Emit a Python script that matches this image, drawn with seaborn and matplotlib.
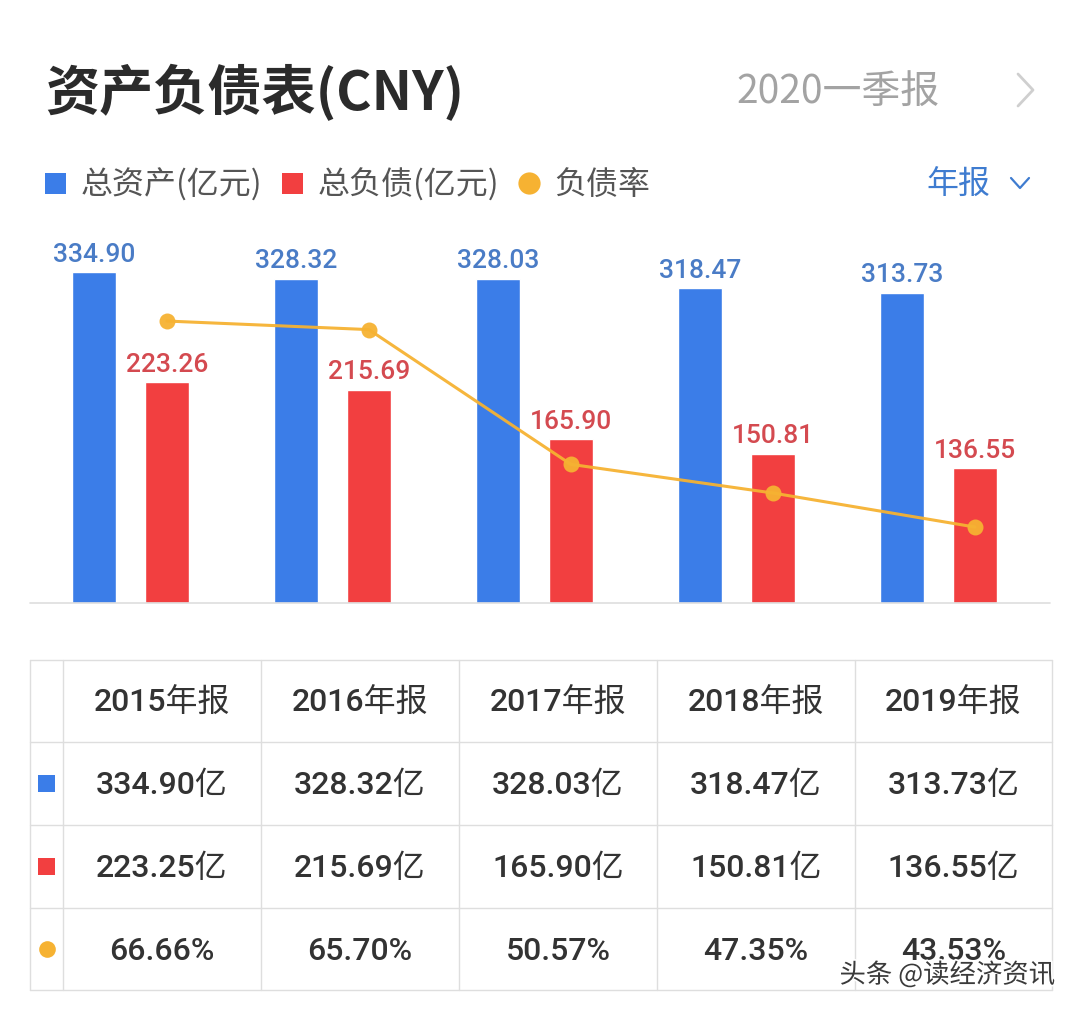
import numpy as np
import pandas as pd
import matplotlib
matplotlib.use('Agg')
import matplotlib.pyplot as plt
import matplotlib.patheffects as pe
import seaborn as sns

years = ['2015年报', '2016年报', '2017年报', '2018年报', '2019年报']
assets = [334.90, 328.32, 328.03, 318.47, 313.73]
liabs = [223.26, 215.69, 165.90, 150.81, 136.55]
liabs_table = [223.25, 215.69, 165.90, 150.81, 136.55]
ratio = [66.66, 65.70, 50.57, 47.35, 43.53]

BLUE = '#3b7de8'
RED = '#f23f40'
ORANGE = '#f6b232'
BLUE_TXT = '#4a7cc6'
RED_TXT = '#d44a50'
GRID = '#dedede'

sns.set_style('white')
plt.rcParams['font.family'] = ['Noto Sans CJK SC', 'DejaVu Sans']
NUMFONT = ['Roboto', 'Noto Sans CJK SC']

W, H = 1080, 1015
fig = plt.figure(figsize=(W / 100, H / 100), dpi=100)

df = pd.DataFrame({
    'year': years * 2,
    'series': ['总资产'] * 5 + ['总负债'] * 5,
    'value': assets + liabs,
})

# bar chart area
ax = fig.add_axes([30 / W, (H - 603) / H, 1020 / W, 363 / H])
sns.barplot(data=df, x='year', y='value', hue='series', palette=[BLUE, RED],
            width=0.72, gap=0.395, ax=ax, legend=False, saturation=1)
ax.set_xlim(-0.4975, 4.552)
ax.set_ylim(0, 367.4)
ax.axis('off')
ax.axhline(0, color=GRID, lw=1.2, clip_on=False)
for cont, col in zip(ax.containers, [BLUE_TXT, RED_TXT]):
    ax.bar_label(cont, fmt='%.2f', padding=4, color=col, fontsize=19,
                 family='Roboto', fontweight='medium')

ax2 = ax.twinx()
sns.lineplot(x=np.arange(len(ratio)) + 0.18, y=ratio, ax=ax2, color=ORANGE,
             lw=2.2, marker='o', markersize=11.5, markeredgewidth=0, alpha=0.95)
ax2.set_xlim(-0.4975, 4.552)
ax2.set_ylim(35, 75.76)
ax2.axis('off')

# overlay in pixel coordinates for header, legend and table
ov = fig.add_axes([0, 0, 1, 1])
ov.set_xlim(0, W)
ov.set_ylim(H, 0)
ov.axis('off')

ov.text(45, 94, '资产负债表(CNY)', fontsize=39, fontweight='bold', color='#2b2b2b',
        va='center', ha='left')
ov.text(940, 93, '2020一季报', fontsize=28, color='#a3a3a3', va='center', ha='right')
ov.plot([1018, 1033, 1018], [74, 90, 106], color='#cfcfcf', lw=2)

ov.add_patch(plt.Rectangle((45, 173), 21, 21, color=BLUE, lw=0))
ov.text(81, 185, '总资产(亿元)', fontsize=23, color='#555555', va='center')
ov.add_patch(plt.Rectangle((282, 173), 21, 21, color=RED, lw=0))
ov.text(318, 185, '总负债(亿元)', fontsize=23, color='#555555', va='center')
ov.plot([529], [183], 'o', color=ORANGE, markersize=16, markeredgewidth=0)
ov.text(554, 185, '负债率', fontsize=23, color='#555555', va='center')
ov.text(990, 185, '年报', fontsize=23, color='#3f7cd0', va='center', ha='right')
ov.plot([1011, 1020, 1029], [178, 188, 178], color='#3f7cd0', lw=1.6)

# table
col_edges = [30, 63, 261, 459, 657, 855, 1052]
row_edges = [660, 742, 825, 908, 990]
for x in col_edges:
    ov.plot([x, x], [row_edges[0], row_edges[-1]], color=GRID, lw=1)
for y in row_edges:
    ov.plot([col_edges[0], col_edges[-1]], [y, y], color=GRID, lw=1)

rows = [
    years,
    [f'{v:.2f}亿' for v in assets],
    [f'{v:.2f}亿' for v in liabs_table],
    [f'{v:.2f}%' for v in ratio],
]
for r, labels in enumerate(rows):
    yc = (row_edges[r] + row_edges[r + 1]) / 2 + 2
    for c, lab in enumerate(labels):
        xc = (col_edges[c + 1] + col_edges[c + 2]) / 2
        ov.text(xc, yc, lab, fontsize=23, color='#333333', fontweight='medium',
                family=NUMFONT, ha='center', va='center')

ov.add_patch(plt.Rectangle((38, 775), 17, 17, color=BLUE, lw=0))
ov.add_patch(plt.Rectangle((38, 858), 17, 17, color=RED, lw=0))
ov.plot([46.5], [949], 'o', color=ORANGE, markersize=12, markeredgewidth=0)

ov.text(1055, 975, '头条 @读经济资讯', fontsize=19, color='#3a3a3a', ha='right', va='center',
        path_effects=[pe.withStroke(linewidth=2.5, foreground='white')])

fig.savefig('out.png', dpi=100, facecolor='white')
